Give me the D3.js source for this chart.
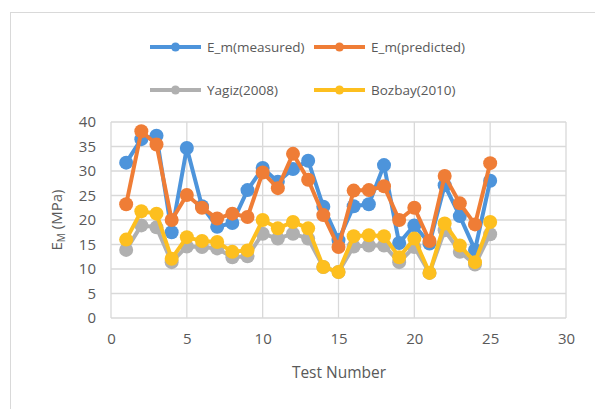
<!DOCTYPE html>
<html><head><meta charset="utf-8">
<script src="https://cdn.jsdelivr.net/npm/d3@7"></script>
<style>
body{margin:0;background:#fff;}
text{font-family:"Open Sans","Liberation Sans",sans-serif;fill:#595959;}
</style></head>
<body><svg id="c" width="595" height="409"></svg>
<script>
const testNumbers = d3.range(1, 26);
const measured  = [31.7,36.5,37.2,17.5,34.7,22.8,18.6,19.4,26.1,30.6,27.8,30.4,32.1,22.7,15.9,22.8,23.2,31.2,15.3,18.9,15.2,27.1,20.8,13.9,28.0];
const predicted = [23.2,38.1,35.4,20.0,25.1,22.5,20.3,21.3,20.6,29.7,26.5,33.5,28.2,21.0,14.5,26.0,26.1,26.9,20.0,22.5,15.7,29.0,23.4,19.1,31.6];
const yagiz     = [13.9,18.9,18.5,11.4,14.6,14.5,14.2,12.4,12.6,17.2,16.2,17.2,16.2,10.4,9.4,14.6,14.8,14.8,11.4,14.5,9.2,17.9,13.5,10.9,17.1];
const bozbay    = [16.0,21.8,21.3,12.1,16.5,15.7,15.5,13.5,13.8,20.0,18.3,19.6,18.3,10.4,9.4,16.7,16.9,16.7,12.4,16.2,9.2,19.3,14.8,11.4,19.6];
const seriesNames = ["E_m(measured)","E_m(predicted)","Yagiz(2008)","Bozbay(2010)"];
const seriesColors = ["#4d94db","#ef7d36","#b0b0b0","#fdbf1f"];
const xTicks = [0,5,10,15,20,25,30];
const yTicks = [0,5,10,15,20,25,30,35,40];

const svg = d3.select("#c");
svg.append("rect").attr("x",10.5).attr("y",12.5).attr("width",600).attr("height",420)
  .attr("fill","none").attr("stroke","#d9d9d9");

const x = d3.scaleLinear().domain([0,30]).range([111,566]);
const y = d3.scaleLinear().domain([0,40]).range([318,122]);

const g = svg.append("g");
g.selectAll(".hg").data(yTicks).join("line")
  .attr("x1",x(0)).attr("x2",x(30)).attr("y1",d=>y(d)).attr("y2",d=>y(d))
  .attr("stroke","#d9d9d9").attr("stroke-width",1.3);
g.selectAll(".vg").data(xTicks).join("line")
  .attr("y1",y(0)).attr("y2",y(40)).attr("x1",d=>x(d)).attr("x2",d=>x(d))
  .attr("stroke","#d9d9d9").attr("stroke-width",1.3);

const xa = svg.append("g").attr("transform",`translate(0,${y(0)})`)
  .call(d3.axisBottom(x).tickValues(xTicks).tickSize(0).tickPadding(15));
xa.select(".domain").remove();
xa.selectAll("text").attr("font-size",15).style("fill","#595959").attr("font-family","'Open Sans',sans-serif");
const ya = svg.append("g").attr("transform",`translate(${x(0)},0)`)
  .call(d3.axisLeft(y).tickValues(yTicks).tickSize(0).tickPadding(15));
ya.select(".domain").remove();
ya.selectAll("text").attr("font-size",15).style("fill","#595959").attr("font-family","'Open Sans',sans-serif");

svg.append("text").attr("x",339).attr("y",378).attr("text-anchor","middle")
  .attr("font-size",15.5).text("Test Number");
const yt = svg.append("text").attr("transform","translate(62,220) rotate(-90)")
  .attr("text-anchor","middle").attr("font-size",15);
yt.append("tspan").text("E");
yt.append("tspan").attr("font-size",10).attr("dy",3).text("M");
yt.append("tspan").attr("dy",-3).text(" (MPa)");

const allSeries = [measured,predicted,yagiz,bozbay];
const line = d3.line().x((d,i)=>x(testNumbers[i])).y(d=>y(d));
allSeries.forEach((vals,si)=>{
  const sg = svg.append("g");
  sg.append("path").attr("d",line(vals)).attr("fill","none")
    .attr("stroke",seriesColors[si]).attr("stroke-width",4).attr("stroke-linejoin","round");
  sg.selectAll("circle").data(vals).join("circle")
    .attr("cx",(d,i)=>x(testNumbers[i])).attr("cy",d=>y(d)).attr("r",7)
    .attr("fill",seriesColors[si]);
});

const legPos = [[150,47],[314,47],[150,90],[314,90]];
seriesNames.forEach((n,i)=>{
  const [lx,ly] = legPos[i];
  const lg = svg.append("g");
  lg.append("line").attr("x1",lx).attr("x2",lx+51).attr("y1",ly).attr("y2",ly)
    .attr("stroke",seriesColors[i]).attr("stroke-width",4);
  lg.append("circle").attr("cx",lx+25.5).attr("cy",ly).attr("r",4.5).attr("fill",seriesColors[i]);
  lg.append("text").attr("x",lx+57).attr("y",ly+5).attr("font-size",13.5).text(n);
});
</script></body></html>
